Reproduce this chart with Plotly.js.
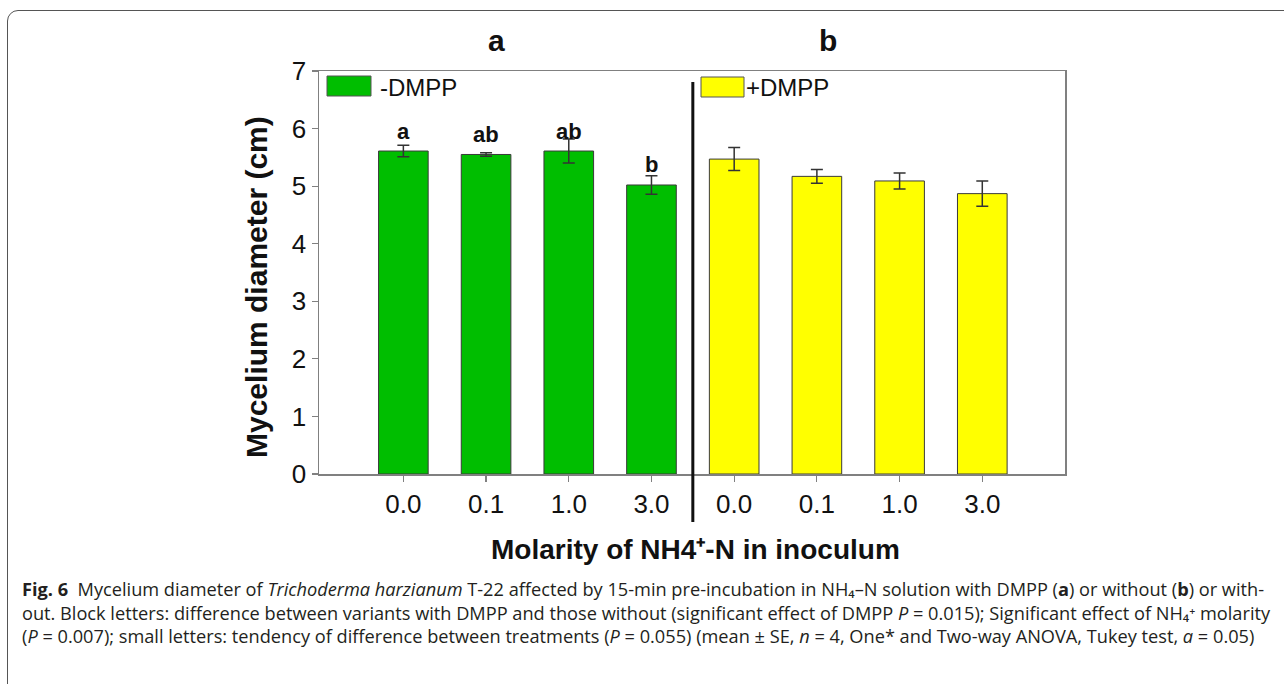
<!DOCTYPE html>
<html>
<head>
<meta charset="utf-8">
<script src="https://cdn.plot.ly/plotly-3.0.1.min.js"></script>
<style>
  html, body { margin: 0; padding: 0; background: #ffffff; }
  #frame { position: absolute; left: 7px; top: 10px; width: 1320px; height: 720px;
           border: 1px solid #555; border-radius: 11px; box-sizing: border-box; }
  #chart { position: absolute; left: 0; top: 0; width: 1284px; height: 684px; }
</style>
</head>
<body>
<div id="frame"></div>
<div id="chart"></div>
<script>
// ---- data ----
const molarity = ['0.0', '0.1', '1.0', '3.0'];
const minusDMPP = [5.61, 5.55, 5.61, 5.02];
const minusDMPP_se = [0.10, 0.03, 0.21, 0.16];
const plusDMPP = [5.47, 5.17, 5.09, 4.87];
const plusDMPP_se = [0.20, 0.12, 0.14, 0.22];
const letters = ['a', 'ab', 'ab', 'b'];
const panelLabels = ['a', 'b'];
const seriesNames = ['-DMPP', '+DMPP'];
const yTitle = 'Mycelium diameter (cm)';
const xTitle = 'Molarity of NH4\u207A-N in inoculum';
const captionLines = [
  '<b>Fig. 6</b>\u00A0 Mycelium diameter of <i>Trichoderma harzianum</i> T-22 affected by 15-min pre-incubation in NH\u2084\u2013N solution with DMPP (<b>a</b>) or without (<b>b</b>) or with-',
  'out. Block letters: difference between variants with DMPP and those without (significant effect of DMPP <i>P</i> = 0.015); Significant effect of NH\u2084\u207A molarity',
  '(<i>P</i> = 0.007); small letters: tendency of difference between treatments (<i>P</i> = 0.055) (mean \u00B1 SE, <i>n</i> = 4, One* and Two-way ANOVA, Tukey test, <i>a</i> = 0.05)'
];

// ---- geometry helpers (pixel -> paper) ----
const L = 319, R = 219, T = 71, Bm = 210, FW = 1284, FH = 684;
const W = FW - L - R, H = FH - T - Bm, B = FH - Bm;
const px = v => (v - L) / W;
const py = v => (B - v) / H;

const n = molarity.length;
const xG = molarity.map((_, i) => i);
const xY = molarity.map((_, i) => i + n);

const ARIAL = 'Liberation Sans, Arial, sans-serif';
const barLine = { color: '#3a3a3a', width: 1 };
const errStyle = { type: 'data', visible: true, color: '#333333', thickness: 1.5, width: 6 };

const traces = [
  { type: 'bar', x: xG, y: minusDMPP, name: seriesNames[0], width: 0.6,
    marker: { color: '#00BE00', line: barLine },
    error_y: Object.assign({ array: minusDMPP_se }, errStyle) },
  { type: 'bar', x: xY, y: plusDMPP, name: seriesNames[1], width: 0.6,
    marker: { color: '#FFFF00', line: barLine },
    error_y: Object.assign({ array: plusDMPP_se }, errStyle) }
];

const annotations = [];
// significance letters
letters.forEach((t, i) => annotations.push({
  x: xG[i], y: minusDMPP[i], xref: 'x', yref: 'y', text: '<b>' + t + '</b>',
  showarrow: false, yanchor: 'middle', yshift: 20,
  font: { family: ARIAL, size: 22, color: '#111' }
}));
// panel labels
[[496, panelLabels[0]], [828, panelLabels[1]]].forEach(([xp, t]) => annotations.push({
  x: px(xp), y: py(41), xref: 'paper', yref: 'paper', text: '<b>' + t + '</b>',
  showarrow: false, xanchor: 'center', yanchor: 'middle',
  font: { family: ARIAL, size: 30, color: '#111' }
}));
// legend labels
[[378, seriesNames[0]], [744, seriesNames[1]]].forEach(([xp, t]) => annotations.push({
  x: px(xp), y: py(87), xref: 'paper', yref: 'paper', text: t,
  showarrow: false, xanchor: 'left', yanchor: 'middle',
  font: { family: ARIAL, size: 24, color: '#111' }
}));
// axis titles
annotations.push({
  x: px(256), y: py(287), xref: 'paper', yref: 'paper', text: '<b>' + yTitle + '</b>',
  textangle: -90, showarrow: false, xanchor: 'center', yanchor: 'middle',
  font: { family: ARIAL, size: 30, color: '#111' }
});
annotations.push({
  x: px(695), y: py(549), xref: 'paper', yref: 'paper', text: '<b>' + xTitle + '</b>',
  showarrow: false, xanchor: 'center', yanchor: 'middle',
  font: { family: ARIAL, size: 28, color: '#111' }
});
// caption (one multi-line text block)
annotations.push({
  x: px(20), y: py(612), xref: 'paper', yref: 'paper', text: captionLines.join('<br>'),
  showarrow: false, xanchor: 'left', yanchor: 'middle', align: 'left',
  font: { family: 'Open Sans, Noto Sans, sans-serif', size: 18.2, color: '#231f20' }
});

const shapes = [
  // legend swatches
  { type: 'rect', xref: 'paper', yref: 'paper', x0: px(327), x1: px(371), y0: py(96), y1: py(76),
    fillcolor: '#00BE00', line: { color: '#555', width: 1 } },
  { type: 'rect', xref: 'paper', yref: 'paper', x0: px(701), x1: px(744), y0: py(97), y1: py(77),
    fillcolor: '#FFFF00', line: { color: '#555', width: 1 } },
  // divider between panels
  { type: 'line', xref: 'x', yref: 'paper', x0: n - 0.5, x1: n - 0.5, y0: py(522), y1: py(82),
    line: { color: '#111', width: 3 } }
];

const layout = {
  width: FW, height: FH,
  margin: { l: L, r: R, t: T, b: Bm, pad: 0 },
  paper_bgcolor: 'rgba(0,0,0,0)', plot_bgcolor: '#ffffff',
  showlegend: false,
  bargap: 0.4,
  xaxis: {
    range: [-1.02, 8.0], tickmode: 'array', tickvals: xG.concat(xY),
    ticktext: molarity.concat(molarity), ticks: 'outside', ticklen: 6, tickwidth: 1.2,
    tickcolor: '#808080', showline: true, linecolor: '#808080', linewidth: 1.5, mirror: true,
    showgrid: false, zeroline: false, fixedrange: true,
    tickfont: { family: ARIAL, size: 26, color: '#111' }
  },
  yaxis: {
    range: [0, 7], dtick: 1, ticks: 'outside', ticklen: 6, tickwidth: 1.2, tickcolor: '#808080',
    showline: true, linecolor: '#808080', linewidth: 1.5, mirror: true,
    showgrid: false, zeroline: false, fixedrange: true,
    tickfont: { family: ARIAL, size: 26, color: '#111' }
  },
  annotations: annotations,
  shapes: shapes
};

Plotly.newPlot('chart', traces, layout, { displayModeBar: false, staticPlot: true });
</script>
</body>
</html>
